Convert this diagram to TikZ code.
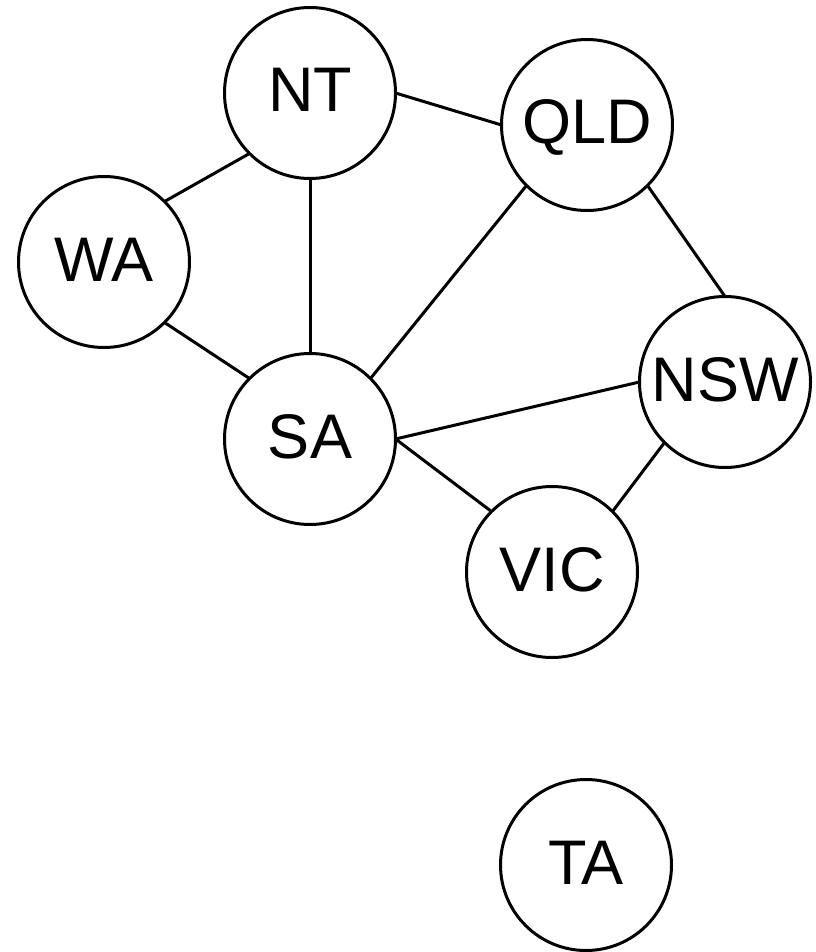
\documentclass[tikz,border=0pt]{standalone}
\usepackage{fontspec}
\setmainfont{Liberation Sans}
\begin{document}
\begin{tikzpicture}[x=1pt,y=-1pt,
  state/.style={circle,draw,line width=3pt,minimum size=171pt,inner sep=0pt,
    outer sep=0pt,text height=45pt,text depth=7pt,
    font=\fontsize{63}{70}\selectfont},
  link/.style={line width=3pt}]
  \useasboundingbox (0,0) rectangle (815,952);
  \node[state] (NT)  at (310,93)  {NT};
  \node[state] (QLD) at (587,125) {QLD};
  \node[state] (WA)  at (104,262) {WA};
  \node[state] (SA)  at (310,439) {SA};
  \node[state] (NSW) at (725,382) {NSW};
  \node[state] (VIC) at (552,572) {VIC};
  \node[state] (TA)  at (586,865) {TA};
  % edges leave and enter the circles at the compass anchors
  \draw[link] (NT.east) -- (QLD.west);
  \draw[link] (NT.south west) -- (WA.north east);
  \draw[link] (NT.south) -- (SA.north);
  \draw[link] (WA.south east) -- (SA.north west);
  \draw[link] (QLD.south west) -- (SA.north east);
  \draw[link] (QLD.south east) -- (NSW.north);
  \draw[link] (SA.east) -- (NSW.west);
  \draw[link] (SA.east) -- (VIC.north west);
  \draw[link] (NSW.south west) -- (VIC.north east);
\end{tikzpicture}
\end{document}
